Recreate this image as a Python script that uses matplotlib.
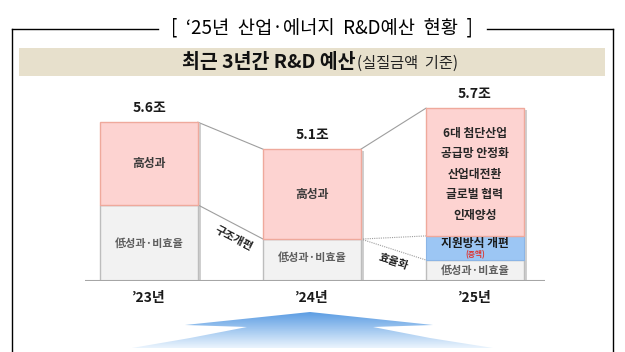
import numpy as np
import matplotlib
matplotlib.use('Agg')
import matplotlib.pyplot as plt
from matplotlib.patches import Polygon, Rectangle

plt.rcParams['font.family'] = ['Noto Sans CJK KR', 'DejaVu Sans']

# 데이터 (조원, 도식 높이)
years = ['’23년', '’24년', '’25년']
totals = ['5.6조', '5.1조', '5.7조']
low = [2.65, 1.46, 0.73]       # 低성과·비효율
support = [0.0, 0.0, 0.84]     # 지원방식 개편(증액)
high = [2.88, 3.13, 4.45]      # 高성과
high_items = ['6대 첨단산업', '공급망 안정화', '산업대전환', '글로벌 협력', '인재양성']

pink, pink_edge = '#FDD3D1', '#EFA99C'
grey, grey_edge = '#F2F2F2', '#BDBDBD'
blue = '#9CC6F4'

fig = plt.figure(figsize=(6.25, 3.52), dpi=100)

# 배경 장식 (픽셀 좌표)
bg = fig.add_axes([0, 0, 1, 1], zorder=0)
bg.set_xlim(0, 625)
bg.set_ylim(352, 0)
bg.axis('off')
bg.plot([12, 158], [29, 29], color='black', lw=1)
bg.plot([487, 613], [29, 29], color='black', lw=1)
bg.plot([12, 12], [29, 352], color='black', lw=1)
bg.plot([613, 613], [29, 352], color='black', lw=1)
bg.text(322, 28, '[  ‘25년  산업·에너지  R&D예산  현황  ]', ha='center', va='center',
        fontsize=13.5, color='black')
bg.add_patch(Rectangle((19, 48), 586, 28, facecolor='#E7E0CC', edgecolor='none'))
bg.text(356, 62, '최근 3년간 R&D 예산', ha='right', va='center', fontsize=14,
        fontweight='bold', color='#111111')
bg.text(357, 63, '(실질금액  기준)', ha='left', va='center', fontsize=11, color='#222222')

# 하단 화살표 (그라데이션)
arrow = Polygon([(310, 312), (433, 325), (373, 327), (430, 338), (493, 348),
                 (132, 348), (190, 338), (247, 327), (185, 325)],
                closed=True, facecolor='none', edgecolor='none')
bg.add_patch(arrow)
grad = np.linspace(0, 1, 100).reshape(-1, 1)
cmap = matplotlib.colors.LinearSegmentedColormap.from_list('g', ['#5C9DE3', '#EAF4FD'])
im = bg.imshow(grad, cmap=cmap, extent=(130, 495, 348, 312), aspect='auto', zorder=1)
im.set_clip_path(arrow)
bg.set_xlim(0, 625)
bg.set_ylim(352, 0)

# 막대 차트
ax = fig.add_axes([85 / 625, (352 - 281) / 352, 460 / 625, 201 / 352], zorder=2)
ax.patch.set_alpha(0)
x = np.arange(len(years))
w = 0.6
low = np.array(low)
support = np.array(support)
high = np.array(high)
b2 = low + support
top = b2 + high

# 그림자
sh = 0.02
ax.bar(x + sh, top, w, bottom=-0.06, color='#CFCFCF', zorder=1)
ax.bar(x, low, w, color=grey, edgecolor=grey_edge, lw=1, zorder=2)
ax.bar(x, support, w, bottom=low, color=blue, edgecolor='#8BB5E6', lw=0.8, zorder=2)
ax.bar(x, high, w, bottom=b2, color=pink, edgecolor=pink_edge, lw=1, zorder=2)
ax.axhline(0, color='#A6A6A6', lw=1.5, zorder=3)

ax.set_xlim(-0.393, 2.43)
ax.set_ylim(0, 7.0)
ax.axis('off')

# 연결선
lc = '#9E9E9E'
ax.plot([x[0] + w / 2, x[1] - w / 2], [top[0], top[1]], color=lc, lw=0.8, zorder=1)
ax.plot([x[0] + w / 2, x[1] - w / 2], [b2[0], b2[1]], color=lc, lw=0.8, zorder=1)
ax.plot([x[1] + w / 2, x[2] - w / 2], [top[1], top[2]], color=lc, lw=0.8, zorder=1)
ax.plot([x[1] + w / 2, x[2] - w / 2], [b2[1], b2[2]], color=lc, lw=0.8, ls=(0, (1, 1)), zorder=1)
ax.plot([x[1] + w / 2, x[2] - w / 2], [b2[1], low[2]], color=lc, lw=0.8, ls=(0, (1, 1)), zorder=1)

ax.annotate('구조개편', ((x[0] + x[1]) / 2, (b2[0] + b2[1]) / 2), xytext=(3, -16),
            textcoords='offset pixels', ha='center', va='center', rotation=-27,
            fontsize=8, fontweight='bold', color='#222222')
ax.annotate('효율화', ((x[1] + x[2]) / 2, (b2[1] + low[2]) / 2), xytext=(0, -12),
            textcoords='offset pixels', ha='center', va='center', rotation=-18,
            fontsize=8, fontweight='bold', color='#222222')

# 라벨
for i in range(len(years)):
    ax.annotate(totals[i], (x[i], top[i]), xytext=(0, 14), textcoords='offset pixels',
                ha='center', va='center', fontsize=10, fontweight='bold', color='#1a1a1a')
    ax.annotate(years[i], (x[i], 0), xytext=(0, -17), textcoords='offset pixels',
                ha='center', va='center', fontsize=10, fontweight='bold', color='#1a1a1a')

for i in range(2):
    ax.text(x[i], b2[i] + high[i] / 2, '高성과', ha='center', va='center',
            fontsize=8.5, fontweight='bold', color='#3a3a3a', zorder=4)
    ax.annotate('低성과·비효율', (x[i], low[i] / 2), xytext=(0, 3 if i == 1 else 0),
                textcoords='offset pixels', ha='center', va='center',
                fontsize=8, fontweight='bold', color='#5f5f5f', zorder=4)

mid = b2[2] + high[2] / 2
for k, item in enumerate(high_items):
    ax.annotate(item, (x[2], mid), xytext=(0, (2 - k) * 20.5 - 2), textcoords='offset pixels',
                ha='center', va='center', fontsize=8.5, fontweight='bold', color='#262626', zorder=4)
ax.annotate('지원방식 개편', (x[2], low[2] + support[2] / 2), xytext=(0, 4),
            textcoords='offset pixels', ha='center', va='center',
            fontsize=8.5, fontweight='bold', color='#1a1a1a', zorder=4)
ax.annotate('(증액)', (x[2], low[2] + support[2] / 2), xytext=(0, -7),
            textcoords='offset pixels', ha='center', va='center',
            fontsize=5.5, fontweight='bold', color='#E0302A', zorder=4)
ax.text(x[2], low[2] / 2, '低성과·비효율', ha='center', va='center',
        fontsize=8, fontweight='bold', color='#5f5f5f', zorder=4)

fig.savefig('out.png', dpi=100)
